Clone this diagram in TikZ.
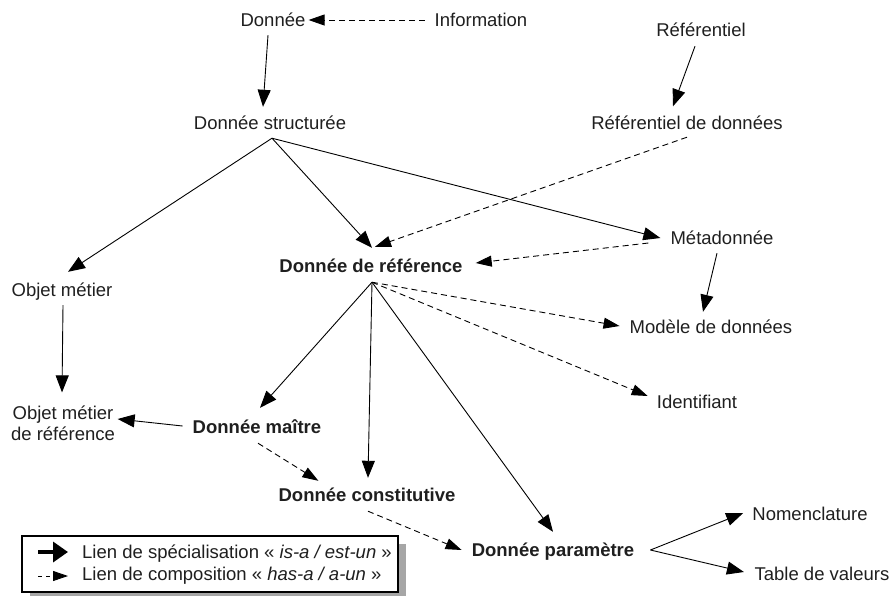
\documentclass[tikz,border=0pt]{standalone}
\usepackage{fontspec}
\setmainfont{Liberation Sans}
\usetikzlibrary{arrows.meta}
\begin{document}
\begin{tikzpicture}[x=1pt,y=-1pt,
  txt/.style={font=\fontsize{18.5}{21}\selectfont, text=black!88, inner sep=2pt},
  lbl/.style={txt, text height=13pt, text depth=4pt},
  blbl/.style={lbl, font=\fontsize{18.5}{21}\selectfont\bfseries},
  isa/.style={draw=black, line width=0.9pt, -{Triangle[length=17pt,width=13pt]}},
  hasa/.style={draw=black, line width=0.9pt, dash pattern=on 6pt off 4pt,
               -{Triangle[length=16pt,width=11pt]}},
]
\useasboundingbox (0,0) rectangle (892,595);

% concepts
\node[lbl]  (don)   at (273,22)  {Donnée};
\node[lbl]  (info)  at (481,22)  {Information};
\node[lbl]  (refl)  at (701,32)  {Référentiel};
\node[lbl]  (refd)  at (687,125) {Référentiel de données};
\node[lbl]  (dstr)  at (270,125) {Donnée structurée};
\node[blbl] (dref)  at (371,268) {Donnée de référence};
\node[lbl]  (meta)  at (722,240) {Métadonnée};
\node[lbl]  (objm)  at (62,292)  {Objet métier};
\node[lbl]  (mod)   at (711,329) {Modèle de données};
\node[lbl]  (ident) at (697,404) {Identifiant};
\node[txt, align=center] (objr) at (63,423) {Objet métier\\de référence};
\node[blbl] (dmai)  at (257,429) {Donnée maître};
\node[blbl] (dcon)  at (367,497) {Donnée constitutive};
\node[blbl] (dpar)  at (553,552) {Donnée paramètre};
\node[lbl]  (nom)   at (810,516) {Nomenclature};
\node[lbl]  (tab)   at (822,576) {Table de valeurs};

% fan-out points
\coordinate (dstrj) at ([shift={(2,2.5)}]dstr.south);
\coordinate (drefj) at ([shift={(1,3.5)}]dref.south);
\coordinate (dparj) at ([shift={(14,-2)}]dpar.east);

% links
\draw[hasa] ([shift={(-8,-2)}]info.west) -- ([shift={(1,-2)}]don.east);
\draw[isa]  ([shift={(-5,2.5)}]don.south) -- ([shift={(-7,-7.5)}]dstr.north);
\draw[isa]  ([shift={(-6,3.5)}]refl.south) -- ([shift={(-14,-8)}]refd.north);
\draw[isa]  (dstrj) -- ([shift={(6,-9.5)}]objm.north);
\draw[isa]  (dstrj) -- ([shift={(1,-9.5)}]dref.north);
\draw[isa]  (dstrj) -- ([shift={(-8,-2)}]meta.west);
\draw[hasa] ([shift={(0,1.5)}]refd.south) -- ([shift={(4,-10.5)}]dref.north);
\draw[hasa] ([shift={(-20,3)}]meta.west) -- ([shift={(11,-5)}]dref.east);
\draw[isa]  ([shift={(-5,2.5)}]meta.south) -- ([shift={(-8,-6.5)}]mod.north);
\draw[hasa] (drefj) -- ([shift={(-8,-3)}]mod.west);
\draw[hasa] (drefj) -- ([shift={(-7,-8)}]ident.west);
\draw[isa]  (drefj) -- ([shift={(3,-10.5)}]dmai.north);
\draw[isa]  (drefj) -- ([shift={(1,-8.5)}]dcon.north);
\draw[isa]  (drefj) -- ([shift={(0,-9.5)}]dpar.north);
\draw[isa]  ([shift={(1,2.5)}]objm.south) -- ([shift={(-1,-11)}]objr.north);
\draw[isa]  ([shift={(-8,-3)}]dmai.west) -- ([shift={(0.5,-4)}]objr.east);
\draw[hasa] ([shift={(1,3.5)}]dmai.south) -- ([shift={(42,-5.5)}]dcon.north west);
\draw[hasa] ([shift={(1,3.5)}]dcon.south) -- ([shift={(-8,-2)}]dpar.west);
\draw[isa]  (dparj) -- ([shift={(-7,-3)}]nom.west);
\draw[isa]  (dparj) -- ([shift={(-8.5,-4)}]tab.west);

% legend
\fill[black!35] (30,544) rectangle (406,600);
\draw[fill=white, line width=1.2pt] (22,536) rectangle (398,592);
\coordinate (l1a) at (38,552);
\coordinate (l1b) at (68,552);
\coordinate (l2a) at (38,576);
\coordinate (l2b) at (68,576);
\draw[line width=3.5pt, -{Triangle[length=15pt,width=20pt]}] (l1a) -- (l1b);
\draw[line width=0.9pt, dash pattern=on 4pt off 4pt,
      -{Triangle[length=15pt,width=10pt]}] (l2a) -- (l2b);
\node[lbl, anchor=west] (leg1) at (80,554)
  {Lien de spécialisation « \textit{is-a / est-un} »};
\node[lbl, anchor=west] (leg2) at (80,576)
  {Lien de composition « \textit{has-a / a-un} »};
\end{tikzpicture}
\end{document}
